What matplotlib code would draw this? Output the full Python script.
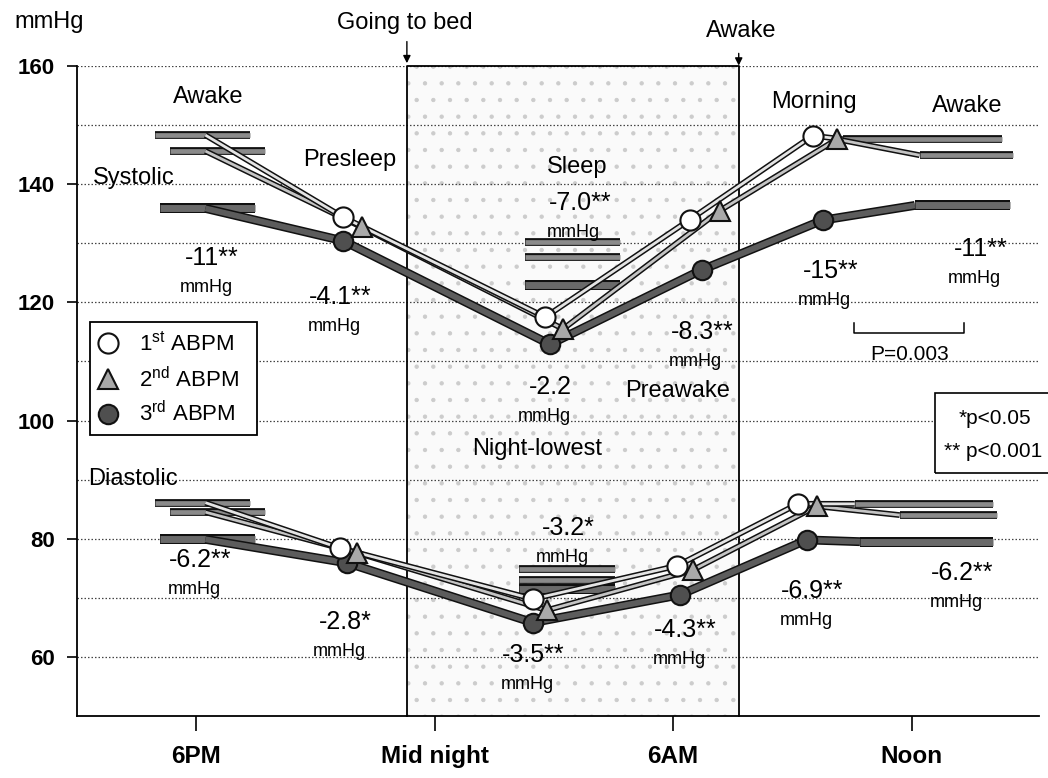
import matplotlib
matplotlib.use('Agg')
import matplotlib.pyplot as plt
import matplotlib.patheffects as pe
from matplotlib.patches import Rectangle

plt.rcParams['font.family'] = ['Liberation Sans', 'DejaVu Sans']
plt.rcParams['mathtext.fontset'] = 'custom'
plt.rcParams['mathtext.rm'] = 'Liberation Sans'
plt.rcParams['hatch.linewidth'] = 0.7

# hours on one running clock: 18 = 6PM, 24 = midnight, 30 = 6AM, 36 = noon
tick_hours = [18, 24, 30, 36]
tick_names = ['6PM', 'Mid night', '6AM', 'Noon']
bed_time = 23.3
wake_time = 31.65

names = ['1st', '2nd', '3rd']

# presleep, night-lowest, preawake, morning readings
sys_hours = [[21.7, 26.78, 30.42, 33.51],
             [22.17, 27.23, 31.17, 34.12],
             [21.7, 26.9, 30.72, 33.76]]
sys_vals = [[134.4, 117.5, 134.0, 148.2],
            [132.7, 115.5, 135.5, 147.6],
            [130.4, 112.9, 125.5, 133.9]]
dia_hours = [[21.62, 26.47, 30.09, 33.14],
             [22.05, 26.82, 30.49, 33.61],
             [21.8, 26.47, 30.17, 33.36]]
dia_vals = [[78.4, 69.8, 75.4, 85.9],
            [77.6, 67.9, 74.7, 85.5],
            [75.9, 65.8, 70.5, 79.8]]

# period means: evening awake, sleep, daytime awake
sys_awake_pm = [148.3, 145.6, 135.9]
sys_sleep = [130.2, 127.7, 123.0]
sys_awake_am = [147.6, 144.9, 136.4]
dia_awake_pm = [86.1, 84.5, 79.9]
dia_sleep = [74.8, 73.0, 71.5]
dia_awake_am = [85.9, 84.0, 79.5]

# spans of the period mean bars (hours)
pm_span = [(16.95, 19.35), (17.35, 19.73), (17.09, 19.48)]
pm_join = 18.23
sys_sleep_span = (26.27, 28.66)
dia_sleep_span = (26.12, 28.54)
sys_am_span = [(34.27, 38.27), (36.2, 38.54), (36.08, 38.47)]
dia_am_span = [(34.57, 38.04), (35.7, 38.14), (34.7, 38.04)]

line_core = ['#e4e4e4', '#c4c4c4', '#5c5c5c']
line_w = [2.0, 2.0, 4.2]
bar_core = ['#8a8a8a', '#8a8a8a', '#6a6a6a']
bar_w = [3.4, 3.4, 5.0]
mk = ['o', '^', 'o']
mk_face = ['white', '#a9a9a9', '#4f4f4f']
mk_size = [14.5, 15, 14]

fig = plt.figure(figsize=(10.48, 7.78), dpi=100)
ax = fig.add_axes([0.0735, 0.0797, 0.9177, 0.8355])
ax.set_xlim(15, 39.2)
ax.set_ylim(50, 160)


def outlined(xs, ys, core, w, z):
    ax.plot(xs, ys, color=core, lw=w, solid_capstyle='butt', zorder=z,
            path_effects=[pe.Stroke(linewidth=w + 2.2, foreground='#111111'), pe.Normal()])


# sleep period box
ax.add_patch(Rectangle((bed_time, 50), wake_time - bed_time, 110,
                       facecolor='#fafafa', edgecolor='none', zorder=0))
ax.add_patch(Rectangle((bed_time, 50), wake_time - bed_time, 110, fill=False,
                       hatch='.', edgecolor='#cccccc', lw=0, zorder=0.5))
ax.plot([bed_time, bed_time, wake_time, wake_time], [50, 160, 160, 50],
        color='k', lw=1.3, zorder=1, clip_on=False)

# dotted reference lines
for g in range(60, 161, 10):
    ax.axhline(g, color='#444444', lw=0.9, ls=(0, (1.2, 1.6)), zorder=0.8)

for i in range(3):
    for hrs, vals, pm, sl, am, sl_span, am_span in (
            (sys_hours, sys_vals, sys_awake_pm, sys_sleep, sys_awake_am, sys_sleep_span, sys_am_span),
            (dia_hours, dia_vals, dia_awake_pm, dia_sleep, dia_awake_am, dia_sleep_span, dia_am_span)):
        z = 3 - i * 0.2
        outlined(pm_span[i], [pm[i], pm[i]], bar_core[i], bar_w[i], z)
        outlined(sl_span, [sl[i], sl[i]], bar_core[i], bar_w[i], 2)
        outlined(am_span[i], [am[i], am[i]], bar_core[i], bar_w[i], z)
        xs = [pm_join] + hrs[i] + [am_span[i][0]]
        ys = [pm[i]] + vals[i] + [am[i]]
        outlined(xs, ys, line_core[i], line_w[i], z + 0.5)

for i in (2, 1, 0):
    for hrs, vals in ((sys_hours, sys_vals), (dia_hours, dia_vals)):
        ax.plot(hrs[i], vals[i], ls='none', marker=mk[i], ms=mk_size[i],
                mfc=mk_face[i], mec='#111111', mew=1.5, zorder=6 + (2 - i))

# axes styling
for s in ('top', 'right'):
    ax.spines[s].set_visible(False)
for s in ('left', 'bottom'):
    ax.spines[s].set_linewidth(1.3)
ax.set_yticks(range(60, 161, 20))
ax.set_xticks(tick_hours)
ax.set_xticklabels(tick_names)
ax.tick_params(axis='y', direction='out', length=7, width=1.2, pad=9, labelsize=16)
ax.tick_params(axis='x', direction='out', length=11, width=1.2, pad=10, labelsize=17.5)
for t in ax.get_yticklabels() + ax.get_xticklabels():
    t.set_fontweight('bold')

fig.text(0.014, 0.972, 'mmHg', fontsize=17, ha='left', va='center')

# bed / wake markers
ax.text(23.25, 167.2, 'Going to bed', fontsize=17, ha='center', va='center')
ax.text(31.7, 165.9, 'Awake', fontsize=17, ha='center', va='center')
ax.annotate('', xy=(bed_time, 160), xytext=(bed_time, 164.6), annotation_clip=False,
            arrowprops=dict(arrowstyle='-|>', color='k', lw=1, mutation_scale=11))
ax.annotate('', xy=(wake_time, 159.6), xytext=(wake_time, 162.6), annotation_clip=False,
            arrowprops=dict(arrowstyle='-|>', color='k', lw=1, mutation_scale=11))

labels = [
    (18.3, 154.8, 'Awake'), (16.44, 141.0, 'Systolic'), (21.87, 144.1, 'Presleep'),
    (27.58, 142.9, 'Sleep'), (33.54, 153.9, 'Morning'), (37.39, 153.2, 'Awake'),
    (30.12, 105.0, 'Preawake'), (26.57, 95.2, 'Night-lowest'), (16.41, 90.1, 'Diastolic'),
]
for x, y, s in labels:
    ax.text(x, y, s, fontsize=17, ha='center', va='center', zorder=10)

diffs = [
    (18.4, 127.5, '-11**'), (21.62, 120.9, '-4.1**'), (27.65, 136.8, '-7.0**'),
    (26.9, 105.7, '-2.2'), (30.72, 115.0, '-8.3**'), (33.96, 125.3, '-15**'),
    (37.74, 129.0, '-11**'),
    (18.1, 76.4, '-6.2**'), (21.75, 65.9, '-2.8*'), (27.35, 81.8, '-3.2*'),
    (26.47, 60.3, '-3.5**'), (30.3, 64.5, '-4.3**'), (33.49, 71.2, '-6.9**'),
    (37.28, 74.2, '-6.2**'),
]
for x, y, s in diffs:
    ax.text(x, y, s, fontsize=18, ha='center', va='center', zorder=10)
    ax.text(x - 0.15, y - 5.0, 'mmHg', fontsize=13, ha='center', va='center', zorder=10)

# bracket for morning comparison
ax.plot([34.55, 34.55, 37.33, 37.33], [116.5, 114.8, 114.8, 116.5], color='k', lw=1.1)
ax.text(35.94, 111.1, 'P=0.003', fontsize=15, ha='center', va='center')

# significance key
ax.add_patch(Rectangle((36.58, 91.1), 3.2, 13.6, fill=False, edgecolor='k', lw=1.2,
                       clip_on=False, zorder=9))
ax.add_patch(Rectangle((36.58, 91.1), 3.2, 13.6, facecolor='white', edgecolor='none',
                       clip_on=False, zorder=8.5))
ax.text(38.1, 100.4, '*p<0.05', fontsize=15, ha='center', va='center', zorder=10)
ax.text(38.05, 94.8, '** p<0.001', fontsize=15, ha='center', va='center', zorder=10)

# legend box
ax.add_patch(Rectangle((15.33, 97.6), 4.2, 19.1, facecolor='white', edgecolor='k',
                       lw=1.3, zorder=9))
leg_y = [113.1, 107.0, 101.1]
leg_txt = [r'1$^{\rm st}$ ABPM', r'2$^{\rm nd}$ ABPM', r'3$^{\rm rd}$ ABPM']
for i in range(3):
    ax.plot([15.79], [leg_y[i]], ls='none', marker=mk[i], ms=mk_size[i], mfc=mk_face[i],
            mec='#111111', mew=1.5, zorder=10)
    ax.text(16.55, leg_y[i], leg_txt[i], fontsize=16, ha='left', va='center', zorder=10)

plt.savefig('out.png', dpi=100)
